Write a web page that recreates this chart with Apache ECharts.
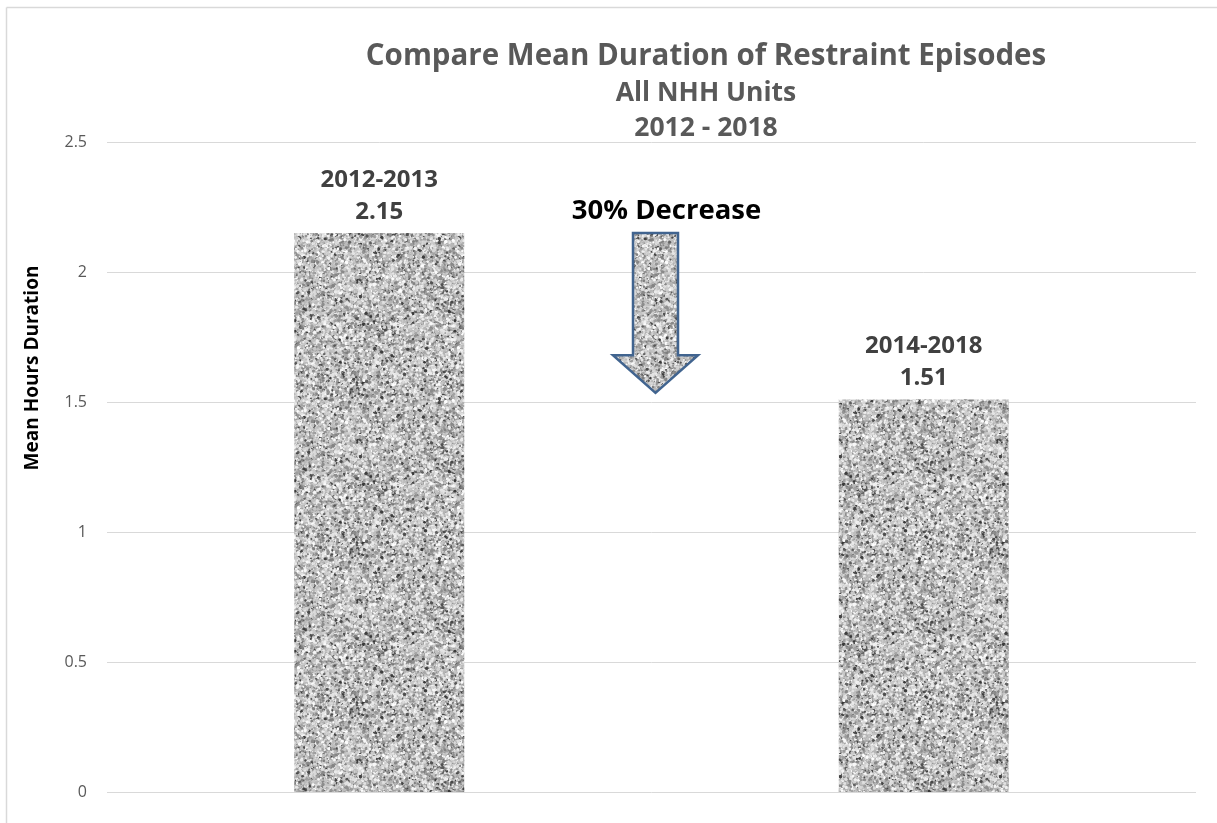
<!DOCTYPE html>
<html>
<head>
<meta charset="utf-8">
<script src="https://cdn.jsdelivr.net/npm/echarts@6/dist/echarts.min.js"></script>
<style>
html,body{margin:0;padding:0;background:#fff;}
#chart{width:1217px;height:823px;}
</style>
</head>
<body>
<div id="chart"></div>
<script>
// ---- data ----
const categories = ['2012-2013', '2014-2018'];
const meanHours = [2.15, 1.51];
const yTicks = [0, 0.5, 1, 1.5, 2, 2.5];
const arrowValues = [2.15, 1.68, 1.535]; // shaft top, head base, tip
const arrowLabel = '30% Decrease';
const titleLines = ['Compare Mean Duration of Restraint Episodes', 'All NHH Units', '2012 - 2018'];
const yAxisName = 'Mean Hours Duration';

// ---- granite texture (deterministic) ----
function makeGranite(size) {
  const c = document.createElement('canvas');
  c.width = size; c.height = size;
  const ctx = c.getContext('2d');
  let s = 12345;
  const rnd = () => { s = (s * 1103515245 + 12345) & 0x7fffffff; return s / 0x7fffffff; };
  ctx.fillStyle = '#b4b4b4';
  ctx.fillRect(0, 0, size, size);
  for (let i = 0; i < size * size * 1.1; i++) {
    const x = rnd() * size, y = rnd() * size;
    const r = 0.5 + rnd() * 1.2;
    const v = rnd();
    let g;
    if (v < 0.08) g = 55 + rnd() * 45;
    else if (v < 0.33) g = 125 + rnd() * 40;
    else if (v < 0.68) g = 182 + rnd() * 35;
    else g = 220 + rnd() * 35;
    g = Math.round(g);
    ctx.fillStyle = 'rgb(' + g + ',' + g + ',' + g + ')';
    for (const dx of [-size, 0, size]) for (const dy of [-size, 0, size]) {
      if (x + dx > -3 && x + dx < size + 3 && y + dy > -3 && y + dy < size + 3) {
        ctx.beginPath(); ctx.arc(x + dx, y + dy, r, 0, Math.PI * 2); ctx.fill();
      }
    }
  }
  return c;
}
const granite = makeGranite(160);

const chart = echarts.init(document.getElementById('chart'));
const FONT = '"Open Sans", "Noto Sans", sans-serif';

const option = {
  animation: false,
  backgroundColor: '#fff',
  title: [
    { text: titleLines[0], left: 701, top: 37, textAlign: 'center',
      textStyle: { fontFamily: FONT, fontSize: 29.5, fontWeight: 'bold', color: '#595959' } },
    { text: titleLines[1], left: 701, top: 75, textAlign: 'center',
      textStyle: { fontFamily: FONT, fontSize: 26.5, fontWeight: 'bold', color: '#595959' } },
    { text: titleLines[2], left: 701, top: 110, textAlign: 'center',
      textStyle: { fontFamily: FONT, fontSize: 26.5, fontWeight: 'bold', color: '#595959' } }
  ],
  graphic: [
    { type: 'line', shape: { x1: 6.5, y1: 7.5, x2: 1217, y2: 7.5 }, style: { stroke: '#d9d9d9', lineWidth: 1.5 } },
    { type: 'line', shape: { x1: 6.5, y1: 7.5, x2: 6.5, y2: 823 }, style: { stroke: '#d9d9d9', lineWidth: 1.5 } },
    { type: 'text', x: 33, y: 368, rotation: Math.PI / 2,
      style: { text: yAxisName, fontFamily: FONT, fontSize: 19, fontWeight: 'bold', fill: '#000',
               align: 'center', verticalAlign: 'middle' } }
  ],
  grid: { left: 107, right: 21, top: 142, bottom: 31 },
  xAxis: {
    type: 'category',
    data: categories,
    axisLine: { show: false },
    axisTick: { show: false },
    axisLabel: { show: false }
  },
  yAxis: {
    type: 'value',
    min: yTicks[0],
    max: yTicks[yTicks.length - 1],
    interval: 0.5,
    axisLine: { show: false },
    axisTick: { show: false },
    axisLabel: { fontFamily: FONT, fontSize: 16, color: '#595959', margin: 20 },
    splitLine: { lineStyle: { color: '#d9d9d9', width: 1 } }
  },
  series: [
    {
      type: 'bar',
      data: meanHours,
      barWidth: 170,
      itemStyle: { color: { image: granite, repeat: 'repeat' } },
      label: {
        show: true,
        position: 'top',
        distance: 5,
        formatter: p => p.name + '\n' + p.value.toFixed(2),
        fontFamily: FONT,
        fontSize: 24,
        fontWeight: 'bold',
        color: '#404040',
        lineHeight: 32
      }
    },
    {
      type: 'custom',
      data: [arrowValues],
      silent: true,
      z: 5,
      renderItem: function (params, api) {
        const top = api.coord([0, arrowValues[0]]);
        const base = api.coord([0, arrowValues[1]]);
        const tip = api.coord([0, arrowValues[2]]);
        const c0 = api.coord([0, 0]);
        const c1 = api.coord([1, 0]);
        const cx = (c0[0] + c1[0]) / 2 + 4;
        const sw = 22.5, hw = 42.5;
        const pts = [
          [cx - sw, top[1]], [cx + sw, top[1]], [cx + sw, base[1]], [cx + hw, base[1]],
          [cx, tip[1]], [cx - hw, base[1]], [cx - sw, base[1]]
        ];
        return {
          type: 'group',
          children: [
            { type: 'polygon', shape: { points: pts },
              style: { fill: { image: granite, repeat: 'repeat' }, stroke: '#41648f', lineWidth: 2.5 } },
            { type: 'text', x: cx + 11, y: top[1] - 22,
              style: { text: arrowLabel, fontFamily: FONT, fontSize: 27.5, fontWeight: 'bold', fill: '#000',
                       align: 'center', verticalAlign: 'middle' } }
          ]
        };
      }
    }
  ]
};
chart.setOption(option);
</script>
</body>
</html>
